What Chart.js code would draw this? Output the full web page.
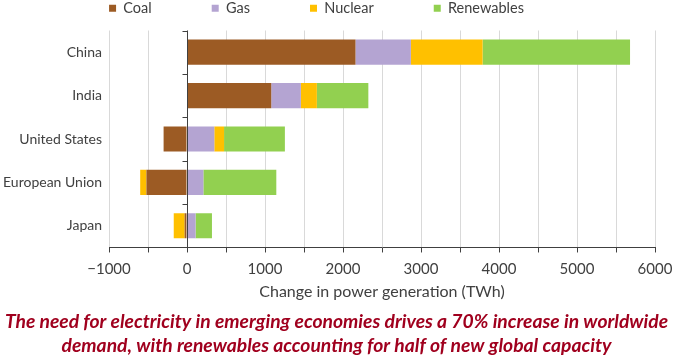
<!DOCTYPE html>
<html>
<head>
<meta charset="utf-8">
<script src="https://cdn.jsdelivr.net/npm/chart.js@4.4.0/dist/chart.umd.min.js"></script>
<style>
html,body{margin:0;padding:0;background:#fff;}
#wrap{width:673px;height:357px;}
</style>
</head>
<body>
<div id="wrap"><canvas id="c" width="673" height="357"></canvas></div>
<script>
// ---- data ----
const categories = ['China', 'India', 'United States', 'European Union', 'Japan'];
const seriesNames = ['Coal', 'Gas', 'Nuclear', 'Renewables'];
const coal       = [2160, 1080, -300, -520, -30];
const gas        = [ 710,  380,  350,  210, 110];
const nuclear    = [ 920,  205,  125,  -80, -140];
const renewables = [1890,  660,  780,  935, 210];
const xMin = -1000, xMax = 6000, xStep = 500, xLabelStep = 1000;
const xTitle = 'Change in power generation (TWh)';
const caption = [
  'The need for electricity in emerging economies drives a 70% increase in worldwide',
  'demand, with renewables accounting for half of new global capacity'
];
const colors = ['#9C5B24', '#B4A4D2', '#FFC000', '#92D050'];

const FONT = 'Lato, "Open Sans", "Liberation Sans", sans-serif';
const TEXT = '#404040';

const seriesValues = [coal, gas, nuclear, renewables];

// plugin: legend spacing tweak
const layoutTweaks = {
  id: 'layoutTweaks',
  beforeLayout(chart) {
    const lg = chart.legend;
    if (lg && !lg._tweaked) {
      const f = lg.fit;
      lg.fit = function () {
        f.call(this);
        if (this.lineWidths) this.lineWidths[0] += 40;
        this.height += 5;
      };
      lg._tweaked = true;
    }
  }
};
// plugin: zero axis line with category tick marks
const zeroAxis = {
  id: 'zeroAxis',
  afterDatasetsDraw(chart) {
    const {ctx, chartArea, scales: {x, y}} = chart;
    const x0 = Math.round(x.getPixelForValue(0)) + 0.5;
    const band = y.getPixelForValue(1) - y.getPixelForValue(0);
    ctx.save();
    ctx.strokeStyle = TEXT;
    ctx.lineWidth = 1;
    ctx.beginPath();
    ctx.moveTo(x0, chartArea.top);
    ctx.lineTo(x0, chartArea.bottom);
    for (let i = 0; i < categories.length; i++) {
      const yy = Math.round(y.getPixelForValue(i) - band / 2) + 0.5;
      ctx.moveTo(x0 - 5, yy);
      ctx.lineTo(x0, yy);
    }
    ctx.stroke();
    ctx.restore();
  }
};

const fmt = v => (v < 0 ? '\u2212' + Math.abs(v) : String(v));

new Chart(document.getElementById('c'), {
  type: 'bar',
  data: {
    labels: categories,
    datasets: seriesNames.map((name, i) => ({
      label: name,
      data: seriesValues[i],
      backgroundColor: colors[i],
      borderWidth: 0,
      barPercentage: 0.58,
      categoryPercentage: 1.0
    }))
  },
  options: {
    indexAxis: 'y',
    responsive: false,
    animation: false,
    devicePixelRatio: 1,
    layout: {padding: {top: -59, left: 0, right: 0, bottom: 0}},
    plugins: {
      legend: {
        position: 'top',
        align: 'center',
        labels: {
          boxWidth: 7, boxHeight: 7, padding: 60,
          color: TEXT,
          font: {family: FONT, size: 14.5}
        }
      },
      title: {
        display: true,
        position: 'bottom',
        text: caption,
        color: '#A0001E',
        font: {family: FONT, size: 19.3, weight: 'bold', style: 'italic', lineHeight: 1.2},
        padding: {top: 7, bottom: 0}
      },
      tooltip: {enabled: false}
    },
    scales: {
      x: {
        stacked: true,
        min: xMin, max: xMax,
        ticks: {
          stepSize: xStep,
          autoSkip: false,
          maxRotation: 0,
          padding: 8,
          color: TEXT,
          font: {family: FONT, size: 15},
          callback: v => (v % xLabelStep === 0 ? fmt(v) : '')
        },
        grid: {
          color: '#D9D9D9',
          tickColor: TEXT,
          tickLength: 5,
          lineWidth: 1
        },
        border: {display: true, color: TEXT, width: 1},
        title: {
          display: true,
          text: xTitle,
          color: TEXT,
          font: {family: FONT, size: 16},
          padding: {top: -4, bottom: 2}
        },
        afterFit(scale) { scale.paddingRight = 18; }
      },
      y: {
        stacked: true,
        ticks: {
          color: TEXT,
          padding: 7,
          font: {family: FONT, size: 14}
        },
        grid: {display: false, drawTicks: false},
        border: {display: false},
        afterFit(scale) { scale.width = 109; }
      }
    }
  },
  plugins: [layoutTweaks, zeroAxis]
});
</script>
</body>
</html>
